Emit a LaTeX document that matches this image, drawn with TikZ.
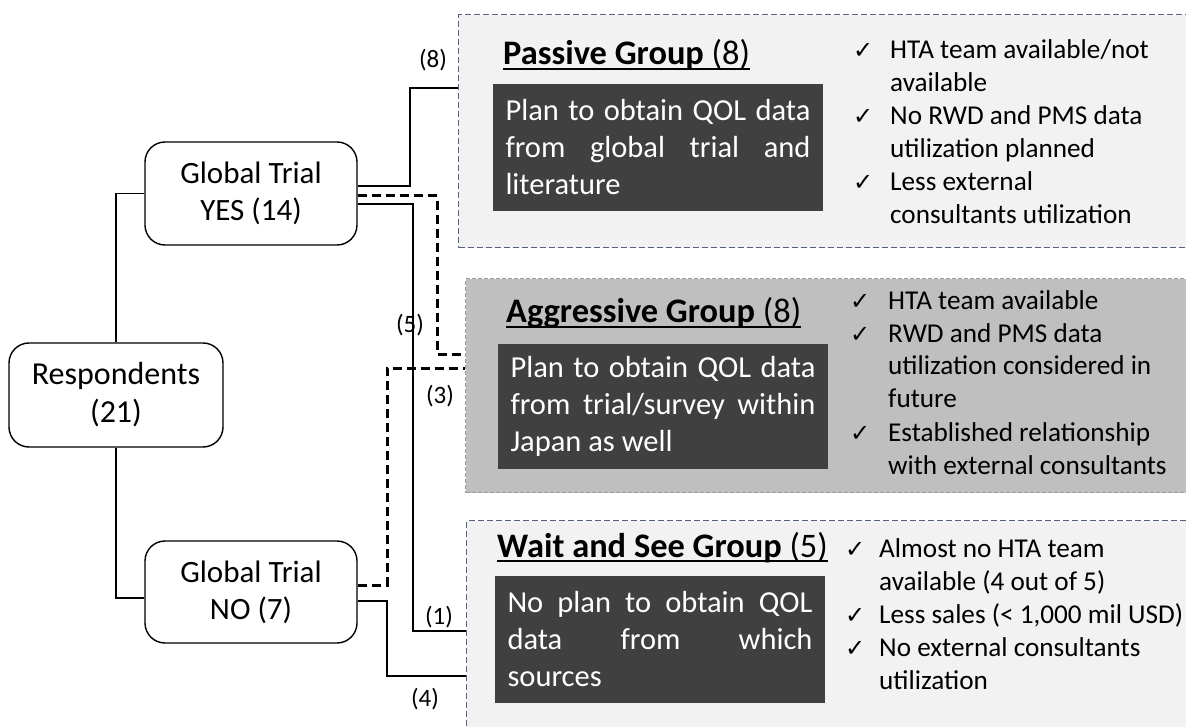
\documentclass[tikz,border=0pt]{standalone}
\usepackage{fontspec}
\setmainfont{Carlito}
\newfontfamily\symfont{DejaVu Sans}
\definecolor{boxdark}{HTML}{404040}
\definecolor{panellight}{HTML}{F2F2F2}
\definecolor{panelmid}{HTML}{BFBFBF}
\definecolor{panelline}{HTML}{55627A}
\definecolor{panelline2}{HTML}{9A9A9A}
\newcommand{\ck}{{\symfont\fontsize{24}{24}\selectfont ✓}}
\newcommand{\jl}[1]{{\spaceskip=0pt\xspaceskip=0pt\makebox[305pt][s]{#1}}}
\begin{document}
\begin{tikzpicture}[x=1pt,y=-1pt,
  rbox/.style={draw=black, line width=1.4pt, rounded corners=20pt, fill=white, align=center,
    font=\fontsize{31}{37}\selectfont, inner sep=0pt},
  panel/.style={line width=1.3pt, dash pattern=on 6pt off 3pt, inner sep=0pt, anchor=north west},
  darkbox/.style={fill=boxdark, text=white, inner sep=0pt, minimum width=330pt, text width=305pt,
    align=flush left, font=\fontsize{30.5}{37}\selectfont},
  gtitle/.style={inner sep=0pt, anchor=base west, font=\fontsize{34.4}{38}\selectfont},
  ulin/.style={line width=1.8pt},
  clist/.style={inner sep=0pt, anchor=base west, font=\fontsize{27.2}{33}\selectfont},
  conn/.style={line width=1.4pt, black},
  dconn/.style={line width=3pt, black, dash pattern=on 9pt off 5pt},
  lbl/.style={inner sep=0pt, font=\fontsize{25}{27}\selectfont}
]
\useasboundingbox (0,0) rectangle (1186,727);
\clip (0,0) rectangle (1186,727);

% panels
\node[panel, fill=panellight, draw=panelline, minimum width=740pt, minimum height=233pt] (ppanel) at (458,14) {};
\node[panel, fill=panelmid, draw=panelline2, dash pattern=on 4pt off 2pt, line width=1.1pt, minimum width=735pt, minimum height=214pt] (apanel) at (465,278) {};
\node[panel, fill=panellight, draw=panelline, minimum width=735pt, minimum height=230pt] (wpanel) at (466,520) {};

% left boxes
\node[rbox, font=\fontsize{32}{38}\selectfont, minimum width=214pt, minimum height=104pt] (resp) at (116,395) {Respondents\\(21)};
\node[rbox, minimum width=212pt, minimum height=103pt] (yes) at (251,193.5) {Global Trial\\YES (14)};
\node[rbox, minimum width=212pt, minimum height=102pt] (no) at (251,592) {Global Trial\\NO (7)};

% bend points
\coordinate (c8) at (410,88);
\coordinate (c5) at (437,354);
\coordinate (c1) at (413,631);
\coordinate (c3) at (387,368);
\coordinate (c4) at (387,676);

% connectors
\draw[conn] (resp.north) |- (yes.west);
\draw[conn] (resp.south) |- ([yshift=-6pt]no.west);
\draw[conn] ([yshift=7.5pt]yes.east) -| (c8) -- (ppanel.west |- c8);
\draw[dconn] ([yshift=-2.5pt]yes.east) -| (c5) -- (apanel.west |- c5);
\draw[conn] ([yshift=-10.5pt]yes.east) -| (c1) -- (wpanel.west |- c1);
\draw[dconn] ([yshift=7pt]no.east) -| (c3) -- (apanel.west |- c3);
\draw[conn] ([yshift=-9pt]no.east) -| (c4) -- (wpanel.west |- c4);

% connector labels
\node[lbl] (l8) at (433,60) {(8)};
\node[lbl] (l5) at (410,325) {(5)};
\node[lbl] (l3) at (440,396) {(3)};
\node[lbl] (l1) at (439,617) {(1)};
\node[lbl] (l4) at (425,699) {(4)};

% titles
\node[gtitle] (ptitle) at (503,65) {\textbf{Passive Group} (8)};
\draw[ulin] ([yshift=-4pt]ptitle.base west) -- ([yshift=-4pt]ptitle.base east);
\node[gtitle] (atitle) at (506,323) {\textbf{Aggressive Group} (8)};
\draw[ulin] ([yshift=-4pt]atitle.base west) -- ([yshift=-4pt]atitle.base east);
\node[gtitle] (wtitle) at (497,557) {\textbf{Wait and See Group} (5)};
\draw[ulin] ([yshift=-4pt]wtitle.base west) -- ([yshift=-4pt]wtitle.base east);

% dark boxes
\node[darkbox, minimum height=127pt] (pbox) at (658,147.5) {\jl{Plan to obtain QOL data}\\\jl{from global trial and}\\literature};
\node[darkbox, minimum height=125pt] (abox) at (663,406.5) {\jl{Plan to obtain QOL data}\\\jl{from trial/survey within}\\Japan as well};
\node[darkbox, minimum height=127pt] (wbox) at (660,639.5) {\jl{No plan to obtain QOL}\\\jl{data from which}\\sources};

% check lists
\node[clist] (plist) at (853,59) {\begin{tabular}[t]{@{}p{37pt}@{}l@{}}
\ck & HTA team available/not\\
 & available\\
\ck & No RWD and PMS data\\
 & utilization planned\\
\ck & Less external\\
 & consultants utilization
\end{tabular}};
\node[clist] (alist) at (850,309) {\begin{tabular}[t]{@{}p{38pt}@{}l@{}}
\ck & HTA team available\\
\ck & RWD and PMS data\\
 & utilization considered in\\
 & future\\
\ck & Established relationship\\
 & with external consultants
\end{tabular}};
\node[clist] (wlist) at (845,557) {\begin{tabular}[t]{@{}p{34pt}@{}l@{}}
\ck & Almost no HTA team\\
 & available (4 out of 5)\\
\ck & Less sales (< 1,000 mil USD)\\
\ck & No external consultants\\
 & utilization
\end{tabular}};
\end{tikzpicture}
\end{document}
